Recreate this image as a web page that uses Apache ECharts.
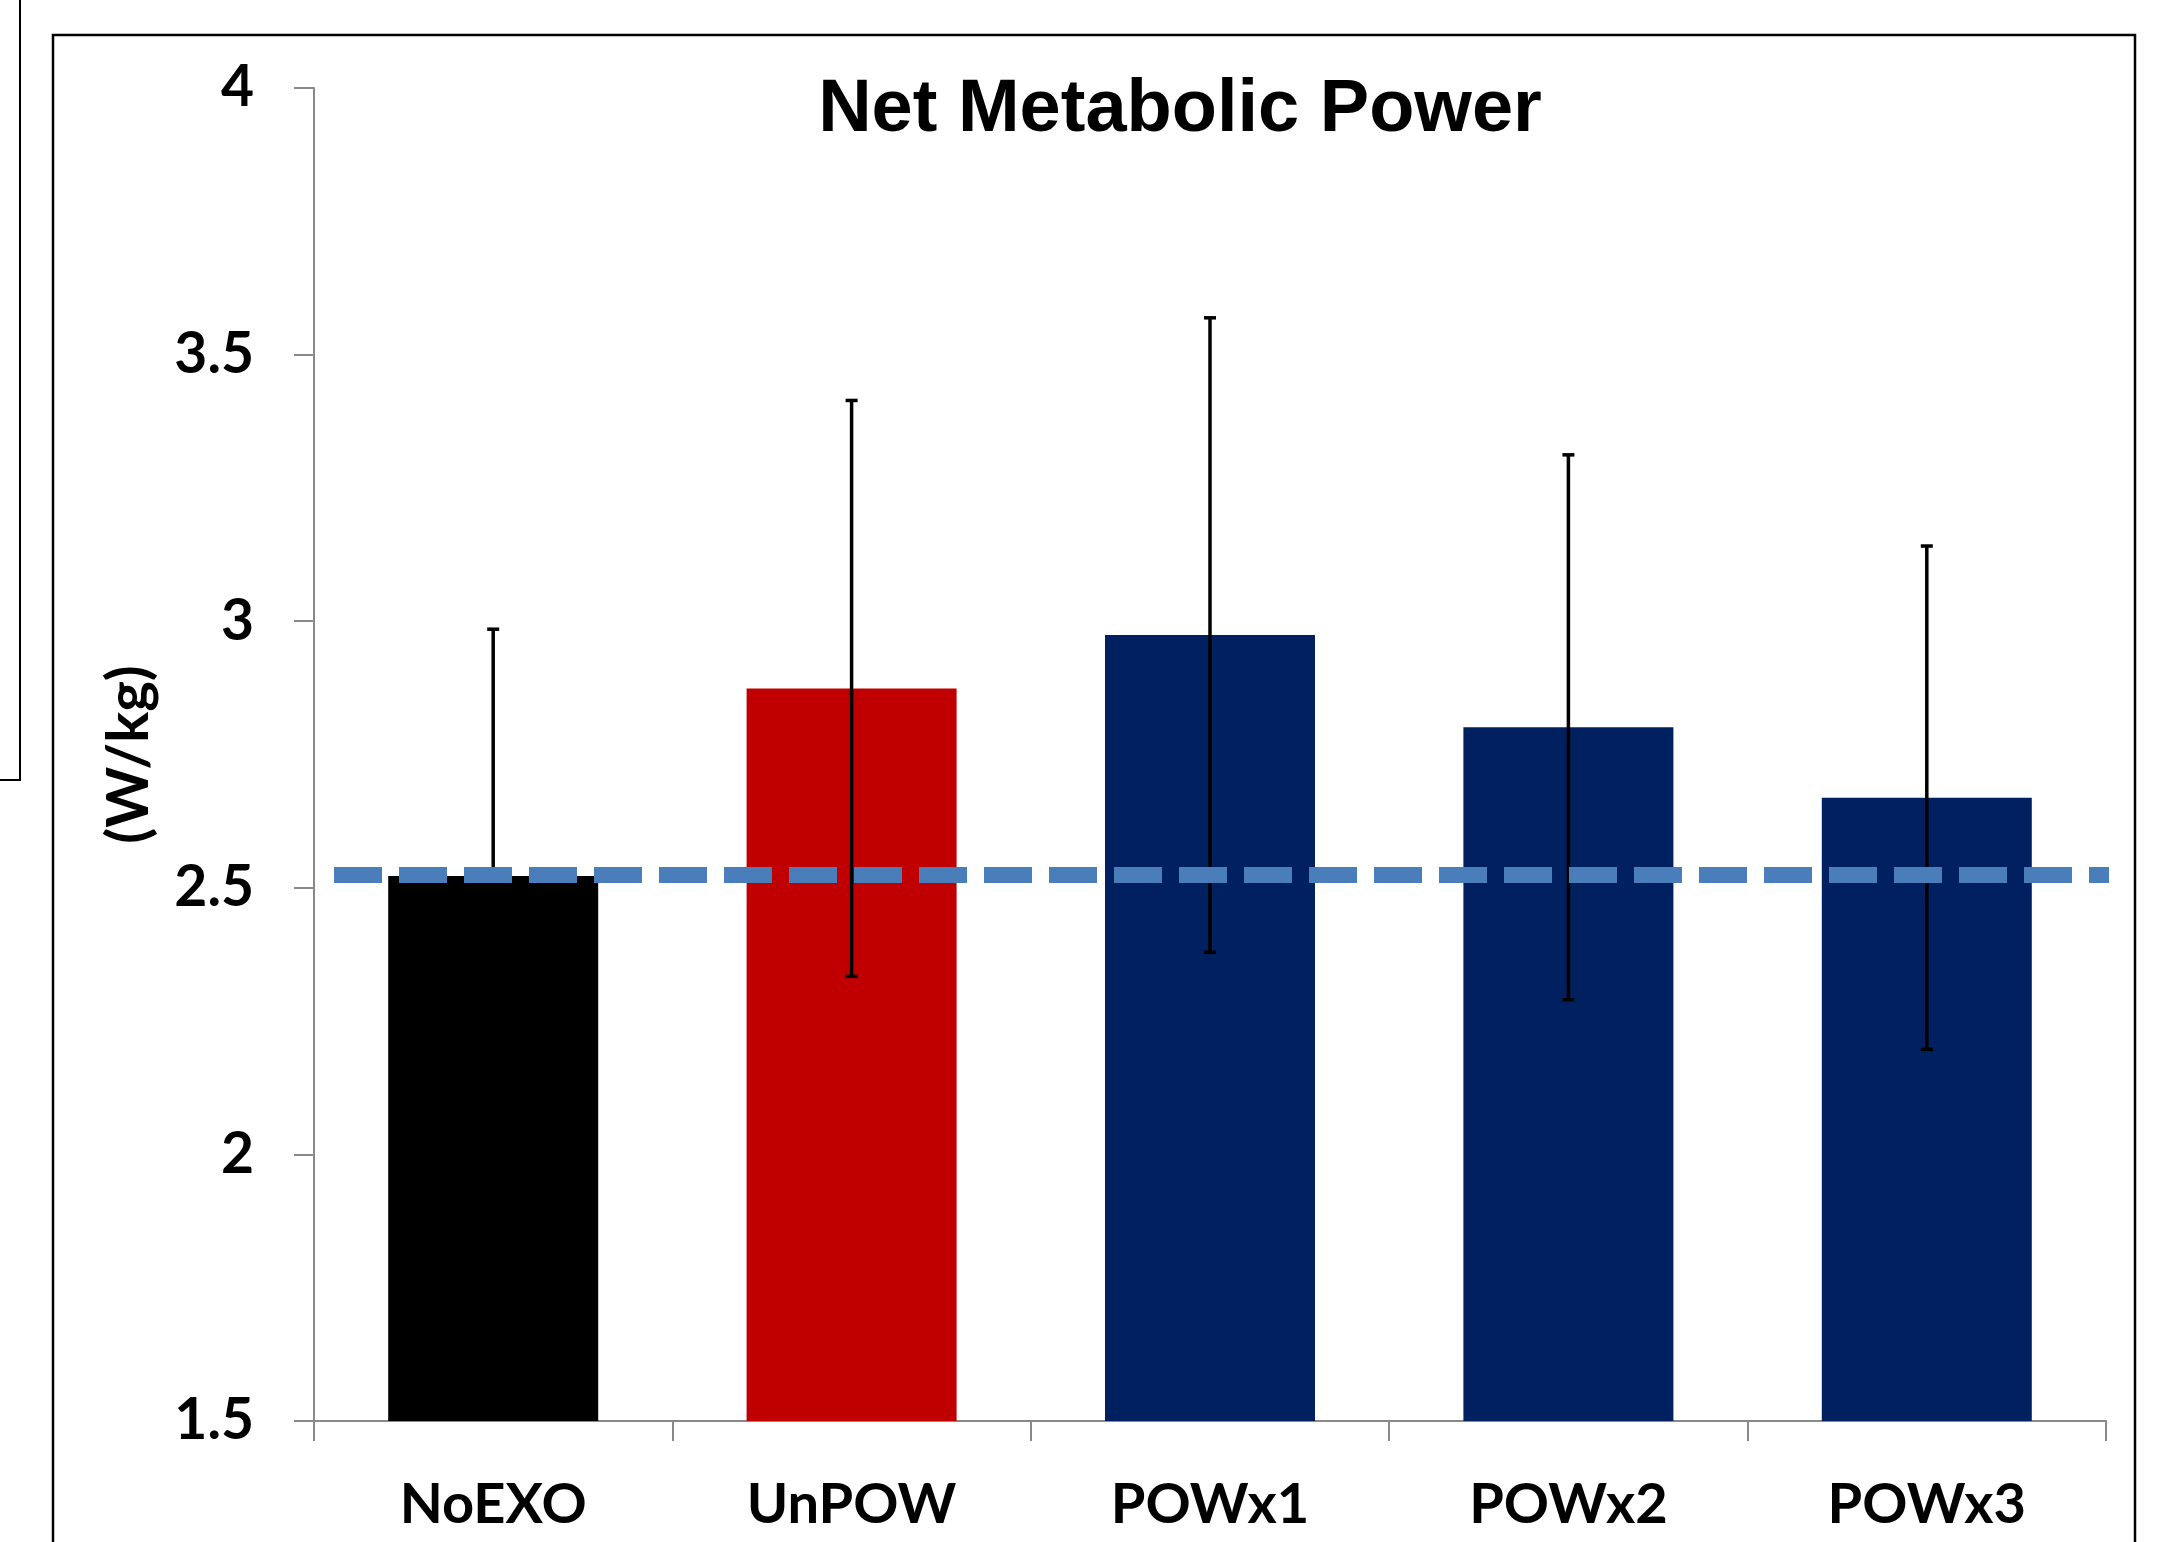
<!DOCTYPE html>
<html>
<head>
<meta charset="utf-8">
<script src="https://cdn.jsdelivr.net/npm/echarts@6/dist/echarts.min.js"></script>
<style>
html,body{margin:0;padding:0;background:#fff;}
#chart{width:2171px;height:1542px;}
</style>
</head>
<body>
<div id="chart"></div>
<script>
const categories = ['NoEXO', 'UnPOW', 'POWx1', 'POWx2', 'POWx3'];
const meanValues = [2.522, 2.874, 2.974, 2.801, 2.669];
const sdValues = [0.463, 0.540, 0.595, 0.511, 0.472];
const barColors = ['#000000', '#C00000', '#002060', '#002060', '#002060'];
const referenceLevel = 2.525;
const yTicks = { min: 1.5, max: 4, interval: 0.5 };

const chart = echarts.init(document.getElementById('chart'));

const barData = meanValues.map((v, i) => ({ value: v, itemStyle: { color: barColors[i] } }));
const errData = meanValues.map((v, i) => [i, v - sdValues[i], v + sdValues[i]]);

const option = {
  animation: false,
  backgroundColor: '#ffffff',
  title: {
    text: 'Net Metabolic Power',
    left: 1175, top: 69, textAlign: 'center',
    textStyle: { fontFamily: 'Liberation Sans', fontWeight: 'bold', fontSize: 74, color: '#000' }
  },
  grid: { left: 314, right: 65, top: 88, bottom: 121, containLabel: false },
  xAxis: {
    type: 'category',
    data: categories,
    axisLine: { lineStyle: { color: '#898989', width: 2 } },
    axisTick: { show: true, length: 20, alignWithLabel: false, lineStyle: { color: '#898989', width: 2 } },
    axisLabel: { margin: 56, fontFamily: 'Lato', fontWeight: 'bold', fontSize: 56, color: '#000' }
  },
  yAxis: {
    type: 'value',
    min: yTicks.min, max: yTicks.max, interval: yTicks.interval,
    name: '(W/kg)',
    nameLocation: 'middle',
    nameGap: 156,
    nameRotate: 90,
    nameTextStyle: { fontFamily: 'Lato', fontWeight: 'bold', fontSize: 58, color: '#000' },
    splitLine: { show: false },
    axisLine: { show: true, lineStyle: { color: '#898989', width: 2 } },
    axisTick: { show: true, length: 20, lineStyle: { color: '#898989', width: 2 } },
    axisLabel: { margin: 60, fontFamily: 'Lato', fontWeight: 'bold', fontSize: 57, color: '#000',
      formatter: v => String(+v.toFixed(1)) }
  },
  graphic: [
    { type: 'polyline', shape: { points: [[20, 0], [20, 780], [0, 780]] }, style: { stroke: '#000', lineWidth: 2, fill: null } },
    { type: 'polyline', shape: { points: [[53, 1542], [53, 35], [2135, 35], [2135, 1542]] }, style: { stroke: '#000', lineWidth: 2.5, fill: null } }
  ],
  series: [
    {
      type: 'bar',
      data: barData,
      barWidth: 210,
      z: 2,
      markLine: {
        symbol: 'none',
        silent: true,
        label: { show: false },
        lineStyle: { color: '#4A7EBB', width: 16, type: [48, 17] },
        data: [[{ x: 334, yAxis: referenceLevel }, { x: 2109, yAxis: referenceLevel }]],
        z: 10
      }
    },
    {
      type: 'custom',
      z: 5,
      data: errData,
      renderItem: function (params, api) {
        const x = api.value(0);
        const lo = api.coord([x, api.value(1)]);
        const hi = api.coord([x, api.value(2)]);
        const cap = 6;
        const style = { stroke: '#000', lineWidth: 3.5 };
        return {
          type: 'group',
          children: [
            { type: 'line', shape: { x1: hi[0], y1: hi[1], x2: lo[0], y2: lo[1] }, style },
            { type: 'line', shape: { x1: hi[0] - cap, y1: hi[1], x2: hi[0] + cap, y2: hi[1] }, style },
            { type: 'line', shape: { x1: lo[0] - cap, y1: lo[1], x2: lo[0] + cap, y2: lo[1] }, style }
          ]
        };
      }
    }
  ]
};
chart.setOption(option);
</script>
</body>
</html>
